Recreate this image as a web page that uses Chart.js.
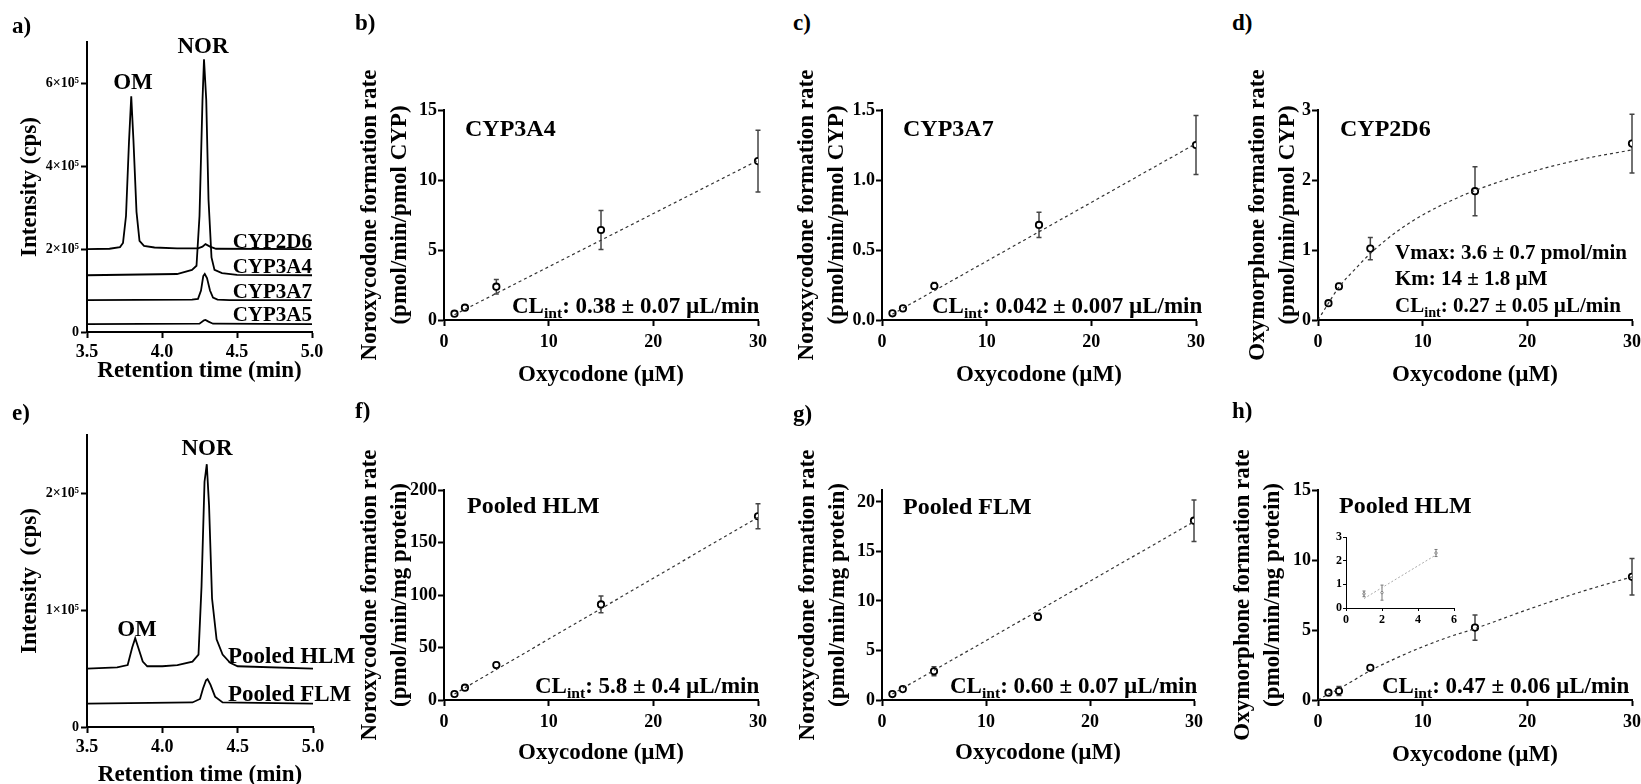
<!DOCTYPE html>
<html>
<head>
<meta charset="utf-8">
<script src="https://cdn.jsdelivr.net/npm/chart.js@4.4.0/dist/chart.umd.min.js"></script>
<style>
  body { margin: 0; background: #fff; width: 1641px; height: 784px; position: relative; overflow: hidden; }
  canvas { position: absolute; }
  .note { position: absolute; font-family: "Liberation Serif", "Times New Roman", serif; font-weight: bold;
          line-height: 1; white-space: nowrap; color: #000; }
  .note sub { font-size: 0.68em; vertical-align: -0.35em; line-height: 0; }
</style>
</head>
<body>
<script>
// ---------- chromatograms (intensity in units of 10^5 cps) ----------
const rt2D6  = [3.5, 3.65, 3.72, 3.74, 3.76, 3.78, 3.795, 3.81, 3.83, 3.85, 3.88, 3.95, 4.1, 4.24, 4.27, 4.29, 4.32, 4.36, 5.0];
const int2D6 = [2.0, 2.01, 2.05, 2.15, 2.8, 4.6, 5.69, 4.6, 2.9, 2.2, 2.08, 2.04, 2.02, 2.02, 2.06, 2.12, 2.06, 2.01, 2.0];
const rt3A4  = [3.5, 4.1, 4.2, 4.23, 4.25, 4.27, 4.28, 4.295, 4.31, 4.33, 4.35, 4.4, 4.5, 5.0];
const int3A4 = [1.37, 1.40, 1.50, 1.60, 2.8, 5.6, 6.58, 5.6, 3.2, 1.8, 1.5, 1.42, 1.38, 1.37];
const rt3A7  = [3.5, 4.2, 4.24, 4.26, 4.275, 4.285, 4.30, 4.32, 4.34, 4.37, 4.45, 5.0];
const int3A7 = [0.77, 0.78, 0.80, 1.0, 1.35, 1.40, 1.30, 1.0, 0.83, 0.78, 0.77, 0.77];
const rt3A5  = [3.5, 4.25, 4.28, 4.29, 4.31, 4.34, 5.0];
const int3A5 = [0.19, 0.20, 0.28, 0.29, 0.25, 0.20, 0.19];

const rtHLM  = [3.5, 3.7, 3.77, 3.80, 3.82, 3.84, 3.87, 3.9, 4.0, 4.1, 4.2, 4.24, 4.26, 4.28, 4.295, 4.31, 4.33, 4.36, 4.40, 4.45, 4.5, 5.0];
const intHLM = [0.50, 0.51, 0.53, 0.68, 0.76, 0.68, 0.56, 0.52, 0.52, 0.53, 0.56, 0.62, 1.2, 2.1, 2.25, 1.9, 1.1, 0.75, 0.62, 0.55, 0.52, 0.50];
const rtFLM  = [3.5, 4.2, 4.25, 4.27, 4.29, 4.30, 4.32, 4.35, 4.40, 5.0];
const intFLM = [0.20, 0.21, 0.24, 0.33, 0.40, 0.41, 0.36, 0.26, 0.21, 0.20];

// ---------- kinetics ----------
const conc = [1, 2, 5, 15, 30];
const rate3A4 = [0.45, 0.88, 2.38, 6.43, 11.35];
const sd3A4   = [0.08, 0.1, 0.52, 1.4, 2.2];
const rate3A7 = [0.048, 0.083, 0.243, 0.679, 1.25];
const sd3A7   = [0.005, 0.008, 0.024, 0.09, 0.21];
const rate2D6 = [0.24, 0.48, 1.02, 1.84, 2.52];
const sd2D6   = [0.03, 0.04, 0.16, 0.35, 0.42];
const rateNorHLM = [5.7, 11.7, 33.3, 91, 175];
const sdNorHLM   = [1, 1.5, 2.5, 8, 12];
const rateNorFLM = [0.6, 1.1, 2.9, 8.4, 18.1];
const sdNorFLM   = [0.1, 0.1, 0.45, 0.35, 2.1];
const rateOmHLM  = [0.52, 0.64, 2.3, 5.17, 8.8];
const sdOmHLM    = [0.1, 0.32, 0.12, 0.9, 1.3];

// fitted lines / curves
const fitX = [1, 30];
const fit3A4 = [0.38, 11.4];
const fit3A7 = [0.042, 1.26];
const fitNorHLM = [5.8, 174];
const fitNorFLM = [0.6, 18.0];
const curveX = [0, 1, 2, 3.5, 5, 7.5, 10, 12.5, 15, 20, 25, 30];
const curve2D6 = [0, 0.24, 0.47, 0.72, 0.95, 1.26, 1.50, 1.69, 1.85, 2.10, 2.29, 2.43];
const curveOmHLM = [0, 0.42, 0.8, 1.45, 2.1, 3.0, 3.8, 4.5, 5.1, 6.45, 7.7, 8.8];

// inset of panel h
const insetX = [1, 2, 5];
const insetY = [0.6, 0.65, 2.33];
const insetSd = [0.12, 0.32, 0.15];
const insetFitX = [1, 5];
const insetFit = [0.4, 2.25];

// ---------- helpers ----------
const FONT = '"Liberation Serif", "Times New Roman", serif';
Chart.defaults.font.family = FONT;
Chart.defaults.font.weight = 'bold';
Chart.defaults.color = '#000';

const pts = (xs, ys) => xs.map((x, i) => ({ x, y: ys[i] }));

const errorBars = {
  id: 'errorBars',
  beforeDatasetsDraw(chart) {
    const { ctx, scales: { x, y } } = chart;
    chart.data.datasets.forEach(ds => {
      if (!ds.sd) return;
      ctx.save();
      ctx.strokeStyle = ds.barColor || '#444';
      ctx.lineWidth = ds.barWidth || 1.5;
      const cap = ds.cap || 2.5;
      ds.data.forEach((p, j) => {
        const px = x.getPixelForValue(p.x);
        const top = y.getPixelForValue(p.y + ds.sd[j]);
        const bot = y.getPixelForValue(p.y - ds.sd[j]);
        ctx.beginPath();
        ctx.moveTo(px, top); ctx.lineTo(px, bot);
        ctx.moveTo(px - cap, top); ctx.lineTo(px + cap, top);
        ctx.moveTo(px - cap, bot); ctx.lineTo(px + cap, bot);
        ctx.stroke();
      });
      ctx.restore();
    });
  }
};

function axisOpts(a, fit, title) {
  return {
    type: 'linear', min: a.min, max: a.max, afterFit: fit,
    border: { display: true, color: '#000', width: a.lw || 2 },
    grid: { drawOnChartArea: false, drawTicks: true, tickLength: a.tl || 6, tickWidth: a.lw || 2, tickColor: '#000', color: '#000' },
    ticks: { stepSize: a.step, includeBounds: false, autoSkip: false, maxRotation: 0, padding: a.tp,
             color: '#000', font: { size: a.fs || 18, weight: 'bold' }, callback: a.fmt },
    title: title ? { display: true, text: title.text, color: '#000', align: 'center',
             font: { size: 23, weight: 'bold', lineHeight: title.lh / 23 }, padding: title.padding } : { display: false }
  };
}

function makePanel(L, spec) {
  const padL = L.padL, padT = L.padT || 75, padR = L.padR || 20, padB = L.padB || 75;
  const w = L.r - L.l + padL + padR, h = L.b - L.t + padT + padB;
  const cv = document.createElement('canvas');
  cv.width = w; cv.height = h;
  cv.style.left = (L.l - padL) + 'px'; cv.style.top = (L.t - padT) + 'px';
  cv.style.width = w + 'px'; cv.style.height = h + 'px';
  document.body.appendChild(cv);
  const yLH = 30, xLH = 27.6;
  const xTitle = spec.xTitle ? { text: spec.xTitle, lh: xLH,
    padding: { top: 0, bottom: L.b + padB - L.xTitleY - xLH / 2 } } : null;
  const yTitle = spec.yTitle ? { text: spec.yTitle, lh: yLH,
    padding: { top: L.yTitleX - (L.l - padL) - yLH / 2, bottom: 0 } } : null;
  return new Chart(cv, {
    type: 'scatter',
    data: { datasets: spec.datasets },
    options: {
      responsive: false, animation: false, events: [],
      layout: { padding: { left: 0, top: padT, right: padR, bottom: 0 } },
      plugins: { legend: { display: false }, tooltip: { enabled: false } },
      scales: {
        x: axisOpts(spec.x, s => { s.height = padB; }, xTitle),
        y: axisOpts(spec.y, s => { s.width = padL; }, yTitle)
      }
    },
    plugins: [errorBars]
  });
}

function trace(xs, ys) {
  return { data: pts(xs, ys), showLine: true, borderColor: '#000', borderWidth: 1.8, pointRadius: 0, tension: 0 };
}
function fitLine(xs, ys) {
  return { data: pts(xs, ys), showLine: true, borderColor: '#333', borderWidth: 1.2, borderDash: [3, 3],
           pointRadius: 0, cubicInterpolationMode: 'monotone' };
}
function points(xs, ys, sd) {
  return { data: pts(xs, ys), sd, showLine: false, pointRadius: 3.2, pointBorderWidth: 1.8,
           pointBorderColor: '#000', pointBackgroundColor: '#fff' };
}

function note(html, x, cy, opt = {}) {
  const size = opt.size || 23;
  const d = document.createElement('div');
  d.className = 'note';
  d.innerHTML = html;
  d.style.fontSize = size + 'px';
  d.style.top = (cy - size / 2) + 'px';
  if (opt.align === 'right') d.style.right = (1641 - x) + 'px';
  else if (opt.align === 'center') { d.style.left = x + 'px'; d.style.transform = 'translateX(-50%)'; }
  else d.style.left = x + 'px';
  document.body.appendChild(d);
}

const e5 = v => v === 0 ? '0' : v + '×10⁵';
const f1 = v => v.toFixed(1);
const rtAxis = { min: 3.5, max: 5.0, step: 0.5, fmt: f1, tp: 4 };
const concAxis = { min: 0, max: 30, step: 10, tp: 6 };
const xConc = 'Oxycodone (µM)';

// ---------- panel a ----------
makePanel({ l: 87, r: 312, t: 42, b: 332, padL: 87, padT: 40, yTitleX: 30, xTitleY: 371 }, {
  datasets: [trace(rt2D6, int2D6), trace(rt3A4, int3A4), trace(rt3A7, int3A7), trace(rt3A5, int3A5)],
  x: rtAxis, y: { min: 0, max: 7, step: 2, fmt: e5, fs: 14, tp: 2 },
  xTitle: 'Retention time (min)', yTitle: 'Intensity (cps)'
});
// ---------- panel b ----------
makePanel({ l: 444, r: 758, t: 110, b: 320, padL: 100, yTitleX: 370, xTitleY: 375 }, {
  datasets: [fitLine(fitX, fit3A4), points(conc, rate3A4, sd3A4)],
  x: concAxis, y: { min: 0, max: 15, step: 5, tp: 1 },
  xTitle: xConc, yTitle: ['Noroxycodone formation rate', '(pmol/min/pmol CYP)']
});
// ---------- panel c ----------
makePanel({ l: 882, r: 1196, t: 110, b: 320, padL: 100, yTitleX: 807, xTitleY: 375 }, {
  datasets: [fitLine(fitX, fit3A7), points(conc, rate3A7, sd3A7)],
  x: concAxis, y: { min: 0, max: 1.5, step: 0.5, fmt: f1, tp: 1 },
  xTitle: xConc, yTitle: ['Noroxycodone formation rate', '(pmol/min/pmol CYP)']
});
// ---------- panel d ----------
makePanel({ l: 1318, r: 1632, t: 110, b: 320, padL: 100, yTitleX: 1258, xTitleY: 375 }, {
  datasets: [fitLine(curveX, curve2D6), points(conc, rate2D6, sd2D6)],
  x: concAxis, y: { min: 0, max: 3, step: 1, tp: 1 },
  xTitle: xConc, yTitle: ['Oxymorphone formation rate', '(pmol/min/pmol CYP)']
});
// ---------- panel e ----------
makePanel({ l: 87, r: 313, t: 435, b: 727, padL: 87, padT: 40, yTitleX: 30, xTitleY: 775 }, {
  datasets: [trace(rtHLM, intHLM), trace(rtFLM, intFLM)],
  x: rtAxis, y: { min: 0, max: 2.5, step: 1, fmt: e5, fs: 14, tp: 2 },
  xTitle: 'Retention time (min)', yTitle: 'Intensity  (cps)'
});
// ---------- panel f ----------
makePanel({ l: 444, r: 758, t: 490, b: 700, padL: 100, yTitleX: 370, xTitleY: 753 }, {
  datasets: [fitLine(fitX, fitNorHLM), points(conc, rateNorHLM, sdNorHLM)],
  x: concAxis, y: { min: 0, max: 200, step: 50, tp: 1 },
  xTitle: xConc, yTitle: ['Noroxycodone formation rate', '(pmol/min/mg protein)']
});
// ---------- panel g ----------
makePanel({ l: 882, r: 1194, t: 490, b: 700, padL: 100, yTitleX: 808, xTitleY: 753 }, {
  datasets: [fitLine(fitX, fitNorFLM), points(conc, rateNorFLM, sdNorFLM)],
  x: concAxis, y: { min: 0, max: 21.2, step: 5, tp: 1 },
  xTitle: xConc, yTitle: ['Noroxycodone formation rate', '(pmol/min/mg protein)']
});
// ---------- panel h ----------
makePanel({ l: 1318, r: 1632, t: 490, b: 700, padL: 100, yTitleX: 1243, xTitleY: 755 }, {
  datasets: [fitLine(curveX, curveOmHLM), points(conc, rateOmHLM, sdOmHLM)],
  x: concAxis, y: { min: 0, max: 15, step: 5, tp: 1 },
  xTitle: xConc, yTitle: ['Oxymorphone formation rate', '(pmol/min/mg protein)']
});
// ---------- inset in h ----------
makePanel({ l: 1346, r: 1454, t: 537, b: 608, padL: 24, padT: 8, padR: 10, padB: 24 }, {
  datasets: [
    { data: pts(insetFitX, insetFit), showLine: true, borderColor: '#aaa', borderWidth: 1, borderDash: [2, 2], pointRadius: 0 },
    { data: pts(insetX, insetY), sd: insetSd, barColor: '#777', barWidth: 1, cap: 1.5,
      showLine: false, pointRadius: 1.2, pointBorderWidth: 0.8, pointBorderColor: '#666', pointBackgroundColor: '#fff' }
  ],
  x: { min: 0, max: 6, step: 2, fs: 12, lw: 1, tl: 3, tp: 2 },
  y: { min: 0, max: 3, step: 1, fs: 12, lw: 1, tl: 3, tp: 1 }
});

// ---------- text ----------
const tags = [['a)', 12, 25], ['b)', 355, 22], ['c)', 793, 22], ['d)', 1232, 22],
              ['e)', 12, 412], ['f)', 355, 410], ['g)', 793, 413], ['h)', 1232, 410]];
tags.forEach(t => note(t[0], t[1], t[2], { size: 23 }));

note('OM', 133, 81, { align: 'center' });
note('NOR', 203, 45, { align: 'center' });
note('CYP2D6', 312, 241, { align: 'right', size: 21 });
note('CYP3A4', 312, 266, { align: 'right', size: 21 });
note('CYP3A7', 312, 291, { align: 'right', size: 21 });
note('CYP3A5', 312, 314, { align: 'right', size: 21 });

note('CYP3A4', 465, 128, { size: 24 });
note('CL<sub>int</sub>: 0.38 ± 0.07 µL/min', 512, 305);
note('CYP3A7', 903, 128, { size: 24 });
note('CL<sub>int</sub>: 0.042 ± 0.007 µL/min', 932, 305);
note('CYP2D6', 1340, 128, { size: 24 });
note('Vmax: 3.6 ± 0.7 pmol/min', 1395, 252, { size: 21 });
note('Km: 14 ± 1.8 µM', 1395, 278, { size: 21 });
note('CL<sub>int</sub>: 0.27 ± 0.05 µL/min', 1395, 305, { size: 21 });

note('OM', 137, 628, { align: 'center' });
note('NOR', 207, 447, { align: 'center' });
note('Pooled HLM', 228, 655, { size: 23 });
note('Pooled FLM', 228, 693, { size: 23 });

note('Pooled HLM', 467, 505, { size: 24 });
note('CL<sub>int</sub>: 5.8 ± 0.4 µL/min', 535, 685);
note('Pooled FLM', 903, 506, { size: 24 });
note('CL<sub>int</sub>: 0.60 ± 0.07 µL/min', 950, 685);
note('Pooled HLM', 1339, 505, { size: 24 });
note('CL<sub>int</sub>: 0.47 ± 0.06 µL/min', 1382, 685);
</script>
</body>
</html>
